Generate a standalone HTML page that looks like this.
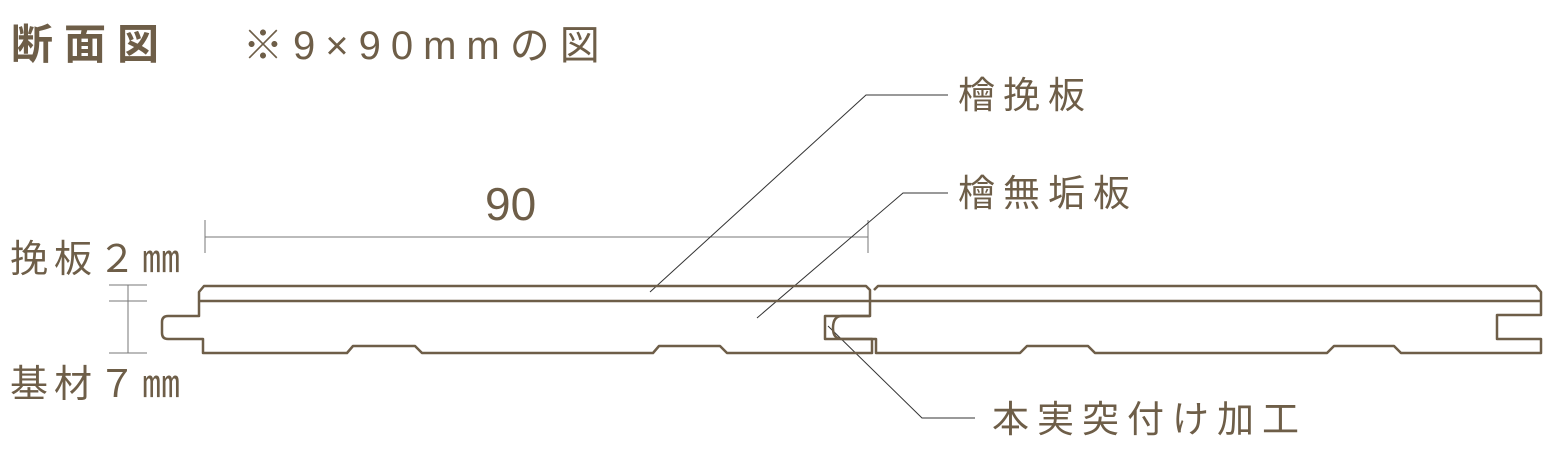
<!DOCTYPE html>
<html><head><meta charset="utf-8"><style>
html,body{margin:0;padding:0;background:#fff;}
svg{display:block;}
text{font-family:"Liberation Sans","Noto Sans CJK JP",sans-serif;fill:#6e5e48;}
</style></head><body>
<svg width="1551" height="468" viewBox="0 0 1551 468" xmlns="http://www.w3.org/2000/svg">
<text x="11" y="59" font-size="42" font-weight="bold" letter-spacing="11">断面図</text>
<text x="243" y="59" font-size="40" letter-spacing="10">※9×90mmの図</text>
<text x="10" y="272" font-size="38" letter-spacing="6">挽板２㎜</text>
<text x="10" y="397" font-size="38" letter-spacing="6">基材７㎜</text>
<text x="958" y="108" font-size="37" letter-spacing="8">檜挽板</text>
<text x="958" y="206" font-size="37" letter-spacing="8">檜無垢板</text>
<text x="992" y="432" font-size="37" letter-spacing="8">本実突付け加工</text>
<text x="485" y="220" font-size="46">90</text>
<g stroke="#777" stroke-width="1" fill="none">
<line x1="128" y1="285" x2="128" y2="353"/>
<line x1="109" y1="285" x2="147" y2="285"/>
<line x1="109" y1="301" x2="147" y2="301"/>
<line x1="109" y1="353" x2="147" y2="353"/>
<line x1="205" y1="237" x2="868" y2="237"/>
<line x1="205" y1="220" x2="205" y2="253"/>
<line x1="868" y1="220" x2="868" y2="253"/>
</g>
<g stroke="#333" stroke-width="1" fill="none">
<polyline points="650,292 866,95 948,95"/>
<polyline points="757,318 903,193 948,193"/>
<polyline points="828,326 922,418 975,418"/>
</g>
<g stroke="#6e5e48" stroke-width="2.5" fill="none" stroke-linejoin="round">
<path d="M870,290 L866,286 L204,286 L199,292 L199,316 L168,316 Q162,316 162,322 L162,333 Q162,339 168,339 L203,339 L203,353 L347,353 L353,346 L415,346 L422,353 L653,353 L659,346 L720,346 L727,353 L872,353 L872,339 L825,339 L825,316 L870,316 Z"/>
<line x1="199" y1="301" x2="870" y2="301"/>
<path d="M874,290 L878,286 L1536,286 L1541,292 L1541,315 L1497,315 L1497,339 L1541,339 L1541,353 L1401,353 L1394,346 L1334,346 L1327,353 L1095,353 L1088,346 L1027,346 L1020,353 L876,353 L876,339 L842,339 Q833,339 833,328 Q833,316 842,316 L870,316"/>
<line x1="870" y1="301" x2="1541" y2="301"/>
</g>
</svg>
</body></html>
